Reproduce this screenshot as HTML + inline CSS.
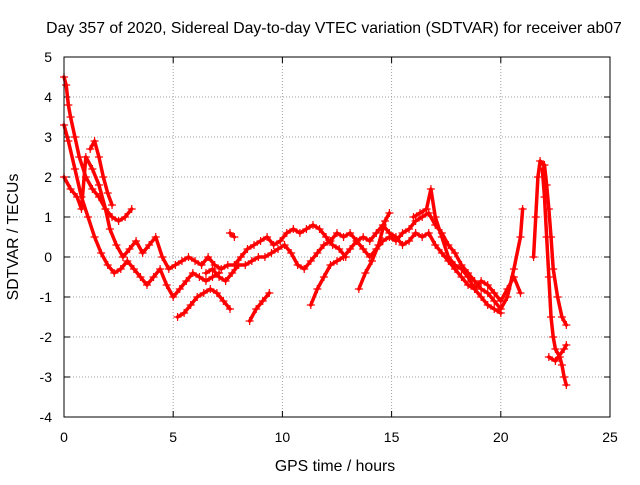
<!DOCTYPE html>
<html><head><meta charset="utf-8"><style>
html,body{margin:0;padding:0;background:#fff}
svg text{font-family:"Liberation Sans",sans-serif;font-size:14px;fill:#000}
svg text.big{font-size:15.8px}
</style></head><body>
<svg id="chart" width="640" height="480" xmlns="http://www.w3.org/2000/svg">
<rect width="640" height="480" fill="#fff"/>
<text class="big" x="334" y="33" text-anchor="middle">Day 357 of 2020, Sidereal Day-to-day VTEC variation (SDTVAR) for receiver ab07</text>
<g id="grid"></g>
<g id="axes"></g>
<g id="series"></g>
<rect x="64" y="57" width="546" height="360" fill="none" stroke="#000" stroke-width="1"/>
<text class="big" x="335" y="471" text-anchor="middle">GPS time / hours</text>
<text class="big" transform="translate(18,237) rotate(-90)" text-anchor="middle">SDTVAR / TECUs</text>
</svg>
<script>
const xTicks=[0,5,10,15,20,25];
const yTicks=[-4,-3,-2,-1,0,1,2,3,4,5];
const trackA1=[[0,4.5],[0.1,4.3],[0.2,3.8],[0.3,3.5],[0.5,3.0],[0.7,2.5],[1.0,2.0],[1.3,1.7],[1.6,1.5],[1.9,1.2],[2.2,1.0],[2.5,0.9],[2.8,1.0],[3.1,1.2]];
const trackA2=[[0,3.3],[0.2,2.9],[0.5,2.2],[0.8,1.5],[1.1,1.0],[1.4,0.5],[1.7,0.1],[2.0,-0.2],[2.3,-0.4],[2.6,-0.3],[2.9,-0.1],[3.2,-0.3],[3.5,-0.5],[3.8,-0.7],[4.1,-0.5],[4.4,-0.3],[4.7,-0.7],[5.0,-1.0],[5.3,-0.8],[5.6,-0.6],[5.9,-0.4],[6.2,-0.5],[6.5,-0.6],[6.8,-0.5],[7.1,-0.4]];
const trackA3=[[0,2.0],[0.3,1.7],[0.6,1.5],[0.8,1.2],[1.0,2.5],[1.3,2.2],[1.6,1.8],[1.9,1.2],[2.1,0.7],[2.4,0.3],[2.7,0.0],[3.0,0.2],[3.3,0.4],[3.6,0.1],[3.9,0.3],[4.2,0.5],[4.5,0.0],[4.8,-0.3],[5.1,-0.2],[5.4,-0.1],[5.7,0.0],[6.0,-0.1],[6.3,-0.2],[6.6,0.0],[6.9,-0.2],[7.2,-0.3],[7.5,-0.2],[7.8,-0.2],[8.1,0.0],[8.4,0.2],[8.7,0.3],[9.0,0.4],[9.3,0.5],[9.6,0.3],[9.9,0.4],[10.2,0.6],[10.5,0.7],[10.8,0.6],[11.1,0.7],[11.4,0.8],[11.7,0.7],[12.0,0.5],[12.3,0.3],[12.6,0.2],[12.9,0.0]];
const trackA4=[[1.2,2.7],[1.4,2.9],[1.6,2.5],[1.8,2.0],[2.0,1.6],[2.2,1.3]];
const trackA5=[[5.2,-1.5],[5.5,-1.4],[5.8,-1.2],[6.1,-1.0],[6.4,-0.9],[6.7,-0.8],[7.0,-0.9],[7.3,-1.1],[7.6,-1.3]];
const trackA6=[[6.5,-0.4],[6.8,-0.3],[7.1,-0.5],[7.4,-0.6],[7.7,-0.4],[8.0,-0.2],[8.3,-0.2],[8.6,-0.1],[8.9,0.0],[9.2,0.0],[9.5,0.1],[9.8,0.2],[10.1,0.3],[10.4,0.1],[10.7,-0.2],[11.0,-0.3],[11.3,-0.1],[11.6,0.1],[11.9,0.3],[12.2,0.4],[12.5,0.6],[12.8,0.5],[13.1,0.6],[13.4,0.4],[13.7,0.2],[14.0,0.0],[14.3,0.2],[14.6,0.4],[14.9,0.5],[15.2,0.4],[15.5,0.6],[15.8,0.7],[16.1,0.9],[16.4,1.0],[16.7,1.1],[17.0,0.8],[17.3,0.6],[17.6,0.3],[17.9,0.1],[18.2,-0.2],[18.5,-0.4],[18.8,-0.6],[19.1,-0.8],[19.4,-0.9],[19.7,-1.1],[20.0,-1.3],[20.3,-1.0],[20.6,-0.3],[20.9,0.5],[21.0,1.2]];
const trackA7=[[8.5,-1.6],[8.8,-1.3],[9.1,-1.1],[9.4,-0.9]];
const trackA7b=[[7.6,0.6],[7.8,0.5]];
const trackA8=[[11.3,-1.2],[11.6,-0.8],[11.9,-0.5],[12.2,-0.2],[12.5,-0.1],[12.8,0.0],[13.1,0.2],[13.4,0.4],[13.7,0.5],[14.0,0.4],[14.3,0.6],[14.6,0.8],[14.9,0.6],[15.2,0.5],[15.5,0.3],[15.8,0.4],[16.1,0.6],[16.4,0.5],[16.7,0.6],[17.0,0.3],[17.3,0.1],[17.6,-0.1],[17.9,-0.3],[18.2,-0.5],[18.5,-0.7],[18.8,-0.8],[19.1,-0.6],[19.4,-0.7],[19.7,-0.9],[20.0,-1.1],[20.3,-0.8],[20.6,-0.5],[20.9,-0.9]];
const trackA9=[[13.5,-0.8],[13.8,-0.4],[14.1,-0.1],[14.4,0.3],[14.7,0.9],[14.9,1.1]];
const trackA10=[[16.0,1.0],[16.3,1.1],[16.6,1.2],[16.8,1.7],[17.0,1.0],[17.3,0.5],[17.6,0.0],[17.9,-0.2],[18.2,-0.3],[18.5,-0.5],[18.8,-0.8],[19.1,-1.0],[19.4,-1.2],[19.7,-1.3],[20.0,-1.4]];
const trackA11=[[21.5,0.0],[21.6,1.0],[21.7,2.0],[21.8,2.4],[22.0,2.3],[22.1,1.8],[22.2,1.2],[22.3,0.5],[22.4,-0.3],[22.6,-1.0],[22.8,-1.5],[23.0,-1.7]];
const trackA12=[[21.9,2.2],[22.0,1.5],[22.1,0.5],[22.2,-0.5],[22.3,-1.5],[22.4,-2.0],[22.5,-2.3],[22.7,-2.5],[22.8,-2.7],[22.9,-3.0],[23.0,-3.2]];
const trackA13=[[22.2,-2.5],[22.5,-2.6],[22.9,-2.3],[23.0,-2.2]];
const tracks=[trackA1,trackA2,trackA3,trackA4,trackA5,trackA6,trackA7,trackA7b,trackA8,trackA9,trackA10,trackA11,trackA12,trackA13];

const NS="http://www.w3.org/2000/svg";
const X0=64,X1=610,Y0=417,Y1=57;
function xs(t){return X0+(t-0)/(25-0)*(X1-X0);}
function ys(v){return Y0-(v+4)/(5+4)*(Y0-Y1);}
function mk(tag,attrs,parent){const e=document.createElementNS(NS,tag);for(const k in attrs)e.setAttribute(k,attrs[k]);parent.appendChild(e);return e;}
const grid=document.getElementById('grid'),axes=document.getElementById('axes'),series=document.getElementById('series');
xTicks.forEach(t=>{
  const x=xs(t);
  if(t>0&&t<25){const g=mk('line',{x1:x,x2:x,y1:Y1,y2:Y0,stroke:'#a0a0a0','stroke-dasharray':'1,2'},grid);
  
  }
  mk('line',{x1:x,x2:x,y1:Y0,y2:Y0-6,stroke:'#000'},axes);
  mk('line',{x1:x,x2:x,y1:Y1,y2:Y1+6,stroke:'#000'},axes);
  const lb=mk('text',{x:x,y:Y0+25,'text-anchor':'middle'},axes);lb.textContent=t;
  
  
});
yTicks.forEach(v=>{
  const y=ys(v);
  if(v>-4&&v<5){const g=mk('line',{x1:X0,x2:X1,y1:y,y2:y,stroke:'#a0a0a0','stroke-dasharray':'1,2'},grid);
  
  }
  mk('line',{x1:X0,x2:X0+6,y1:y,y2:y,stroke:'#000'},axes);
  mk('line',{x1:X1,x2:X1-6,y1:y,y2:y,stroke:'#000'},axes);
  const lb=mk('text',{x:X0-12,y:y+5,'text-anchor':'end'},axes);lb.textContent=v;
  
  
});
tracks.forEach(tr=>{
  const pl=mk('polyline',{points:tr.map(p=>xs(p[0])+','+ys(p[1])).join(' '),fill:'none',stroke:'#f00','stroke-width':3.5,'stroke-linejoin':'round','stroke-linecap':'round'},series);
  
  
  tr.forEach(p=>{
    const x=xs(p[0]),y=ys(p[1]);
    const m=mk('path',{d:`M${x-4},${y}H${x+4}M${x},${y-4}V${y+4}`,stroke:'#f00','stroke-width':1.2},series);
    
    
  });
});
</script>
</body></html>
